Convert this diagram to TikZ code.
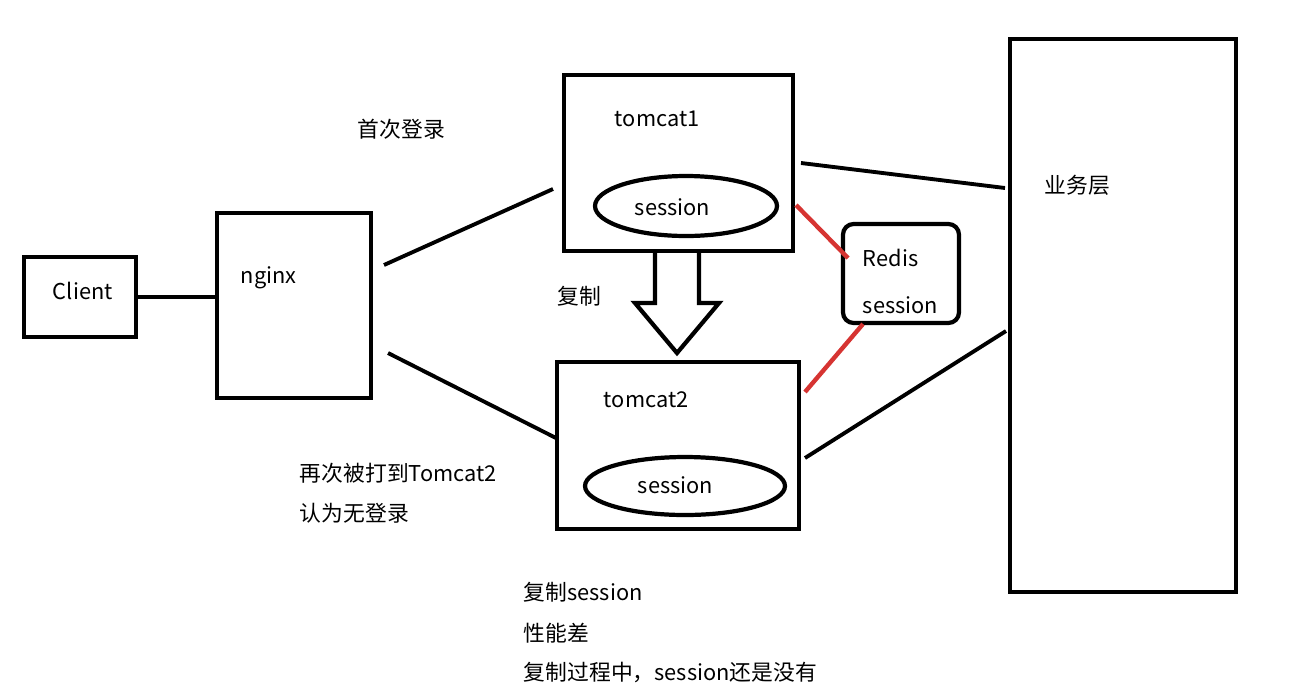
\documentclass[tikz,border=0pt]{standalone}
\usepackage{fontspec}
\setmainfont{Noto Sans CJK SC}
\usetikzlibrary{shapes.geometric}
\definecolor{redisred}{RGB}{214,52,50}
\begin{document}
\begin{tikzpicture}[x=0.02cm,y=-0.02cm,line width=2.2pt,font=\fontsize{12.4}{15}\selectfont]
    \tikzstyle{box}=[rectangle,draw,line width=2.4pt,inner sep=0pt]
    \tikzstyle{sess}=[ellipse,draw,line width=2.4pt,inner sep=0pt]
    \tikzstyle{txt}=[inner sep=0pt,anchor=west]
    \tikzstyle{link}=[draw,line width=2.2pt]
    \tikzstyle{redlink}=[draw=redisred,line width=2.5pt]

    \useasboundingbox (0,0) rectangle (1308,687);

    % boxes
    \node[box,minimum width=2.24cm,minimum height=1.6cm] (client) at (80,297) {};
    \node[box,minimum width=3.08cm,minimum height=3.7cm] (nginx) at (294,305.5) {};
    \node[box,minimum width=4.58cm,minimum height=3.52cm] (tomcat1) at (678.5,163) {};
    \node[box,minimum width=4.84cm,minimum height=3.34cm] (tomcat2) at (678,445.5) {};
    \node[box,minimum width=4.52cm,minimum height=11.06cm] (biz) at (1123,315.5) {};
    \node[box,rounded corners=6pt,minimum width=2.32cm,minimum height=1.98cm] (redis) at (901,273.5) {};
    \node[sess,minimum width=3.64cm,minimum height=1.2cm] (s1) at (686,206) {};
    \node[sess,minimum width=4cm,minimum height=1.16cm] (s2) at (685,486) {};

    % labels inside boxes
    \node[txt] (client-t) at (51,291) {Client};
    \node[txt] (nginx-t) at (239,278) {nginx};
    \node[txt] (tomcat1-t) at (613,119) {tomcat1};
    \node[txt] (tomcat2-t) at (602,400) {tomcat2};
    \node[txt] (s1-t) at (633,207) {session};
    \node[txt] (s2-t) at (636,485) {session};
    \node[txt] (biz-t) at (1043,185) {业务层};
    \node[txt] (redis-t1) at (861,258) {Redis};
    \node[txt] (redis-t2) at (861,305) {session};

    % notes
    \node[txt] (first) at (356,129) {首次登录};
    \node[txt] (copy) at (556,296) {复制};
    \node[txt] (again1) at (298,473) {再次被打到Tomcat2};
    \node[txt] (again2) at (298,513) {认为无登录};
    \node[txt] (note1) at (522,592) {复制session};
    \node[txt] (note2) at (522,633) {性能差};
    \node[txt] (note3) at (522,673) {复制过程中，session还是没有};

    % connector end points
    \coordinate (n-a) at (384,265);
    \coordinate (t1-a) at (553,189);
    \coordinate (n-b) at (388,353);
    \coordinate (t2-a) at (556,438);
    \coordinate (t1-b) at (801,163);
    \coordinate (biz-a) at (1005,188);
    \coordinate (t2-b) at (805,458);
    \coordinate (biz-b) at (1006,331);
    \coordinate (t1-r) at (796,205);
    \coordinate (redis-a) at (848,258);
    \coordinate (t2-r) at (805,392);
    \coordinate (redis-b) at (863,324);

    \path[link] (client.east) -- (client.east -| nginx.west);
    \path[link] (n-a) -- (t1-a);
    \path[link] (n-b) -- (t2-a);
    \path[link] (t1-b) -- (biz-a);
    \path[link] (t2-b) -- (biz-b);
    \path[redlink] (t1-r) -- (redis-a);
    \path[redlink] (t2-r) -- (redis-b);

    % block arrow tomcat1 -> tomcat2
    \draw[line width=2.4pt,line join=miter] (655,251) -- (655,303) -- (635,303) -- (677,353)
        -- (719,303) -- (699,303) -- (699,251);
  \end{tikzpicture}
\end{document}
